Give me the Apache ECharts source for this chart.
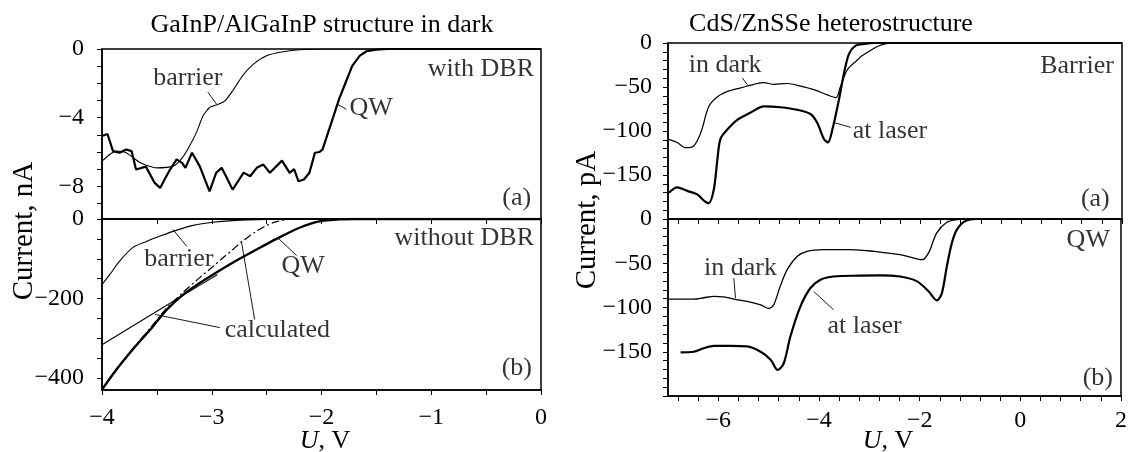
<!DOCTYPE html>
<html>
<head>
<meta charset="utf-8">
<script src="https://cdn.jsdelivr.net/npm/echarts@6/dist/echarts.min.js"></script>
<style>
html, body { margin: 0; padding: 0; background: #fff; }
#chart { width: 1130px; height: 452px; }
</style>
</head>
<body>
<div id="chart"></div>
<script>
// --- data: [U (V), current] ---
var dbrBarrier = [[-4.0,-6.53],[-3.93,-6.14],[-3.87,-5.95],[-3.78,-6.04],[-3.65,-6.63],[-3.5,-6.92],[-3.35,-6.82],
    [-3.28,-6.43],[-3.22,-5.85],[-3.14,-4.87],[-3.08,-3.9],[-3.02,-3.41],[-2.94,-3.22],[-2.88,-3.02],[-2.81,-2.44],
    [-2.72,-1.56],[-2.62,-0.88],[-2.5,-0.39],[-2.35,-0.16],[-2.2,-0.04],[-1.9,0],[0,0]];
var dbrQW = [[-4.0,-5.07],[-3.95,-4.95],[-3.9,-5.95],[-3.84,-6.04],[-3.78,-5.85],[-3.73,-5.95],[-3.69,-7.02],
    [-3.6,-6.85],[-3.52,-7.8],[-3.47,-8.09],[-3.43,-7.6],[-3.38,-7.02],[-3.32,-6.43],[-3.27,-6.63],[-3.24,-6.92],
    [-3.18,-6.04],[-3.11,-6.82],[-3.02,-8.29],[-2.96,-7.21],[-2.91,-6.92],[-2.87,-7.41],[-2.81,-8.19],[-2.75,-7.6],
    [-2.71,-7.2],[-2.65,-7.41],[-2.59,-6.92],[-2.53,-6.73],[-2.47,-7.21],[-2.41,-6.82],[-2.36,-6.5],[-2.29,-7.21],
    [-2.25,-7.0],[-2.21,-7.7],[-2.16,-7.6],[-2.11,-7.21],[-2.06,-6.04],[-2.02,-6.0],[-1.99,-5.85],[-1.94,-4.87],
    [-1.88,-3.7],[-1.84,-2.92],[-1.78,-1.95],[-1.72,-0.98],[-1.65,-0.39],[-1.59,-0.13],[-1.5,-0.04],[-1.4,0],[0,0]];
var noDbrBarrier = [[-4.0,-165],[-3.93,-140],[-3.84,-106],[-3.72,-72],[-3.59,-56],[-3.47,-43],[-3.32,-28],
    [-3.17,-16],[-2.99,-8],[-2.81,-4],[-2.5,-1],[-2.2,0],[0,0]];
var noDbrQW = [[-4.0,-429],[-3.87,-379],[-3.72,-328],[-3.56,-278],[-3.41,-228],[-3.26,-190],[-3.11,-161],
    [-2.99,-140],[-2.81,-110],[-2.62,-81],[-2.41,-50],[-2.2,-22],[-2.02,-6],[-1.84,-1],[-1.7,0],[0,0]];
var calcLinear = [[-4.0,-316],[-3.5,-232],[-3.1,-165],[-2.95,-140]];
var calcDashDot = [[-4.0,-430],[-3.87,-379],[-3.72,-326],[-3.56,-274],[-3.41,-224],[-3.26,-184],[-3.12,-150],
    [-3.0,-122],[-2.9,-98],[-2.8,-75],[-2.73,-58],[-2.6,-32],[-2.5,-16],[-2.4,-6],[-2.3,-1],[-2.2,0],[0,0]];

var barrierDark = [[-6.98,-109.5],[-6.82,-113],[-6.65,-119],[-6.49,-117],[-6.35,-102],[-6.19,-72],[-6.02,-61],
    [-5.82,-55],[-5.56,-51],[-5.3,-47],[-5.1,-45],[-4.9,-47],[-4.63,-46],[-4.37,-49],[-4.11,-53],[-3.84,-59],
    [-3.67,-62],[-3.58,-49],[-3.44,-30],[-3.24,-19],[-3.18,-15.5],[-3.0,-9],[-2.85,-4],[-2.65,-0.5],[-2.4,0],[2,0]];
var barrierLaser = [[-6.98,-170],[-6.82,-164],[-6.62,-168],[-6.42,-172],[-6.29,-179],[-6.19,-182],[-6.09,-166],
    [-6.02,-132],[-5.96,-109],[-5.82,-98],[-5.62,-87],[-5.36,-79],[-5.1,-72],[-4.77,-73],[-4.43,-76],[-4.17,-81],
    [-4.04,-91],[-3.91,-109],[-3.83,-113],[-3.74,-98],[-3.61,-64],[-3.51,-34],[-3.41,-12],[-3.28,-3],[-3.11,-1],
    [-2.9,0],[2,0]];
var qwDark = [[-6.98,-90.5],[-6.75,-90.5],[-6.49,-90.5],[-6.29,-89],[-6.09,-87.5],[-5.89,-88],[-5.69,-90.5],
    [-5.43,-93],[-5.16,-97],[-5.0,-101],[-4.9,-97],[-4.77,-76],[-4.63,-57],[-4.43,-42],[-4.24,-36.5],[-3.91,-34.6],
    [-3.44,-34.6],[-2.91,-36.5],[-2.72,-38],[-2.32,-41],[-1.95,-46],[-1.82,-38],[-1.66,-15.6],[-1.46,-3.6],
    [-1.26,-0.6],[-1.1,0],[2,0]];
var qwLaser = [[-6.75,-150.6],[-6.49,-150],[-6.29,-146],[-6.09,-143.4],[-5.76,-143.4],[-5.43,-144],[-5.16,-150],
    [-4.96,-159],[-4.82,-170.6],[-4.7,-163],[-4.57,-133],[-4.37,-99],[-4.17,-78],[-3.97,-68.6],[-3.71,-65],
    [-3.18,-64],[-2.78,-63.7],[-2.39,-65],[-2.05,-70.5],[-1.82,-82],[-1.66,-92],[-1.56,-84],[-1.46,-53.5],
    [-1.36,-27],[-1.26,-12],[-1.1,-2.5],[-0.86,0],[2,0]];

// tick and label values
var leftXLabels = [-4, -3, -2, -1, 0];
var leftXTicks = [-4, -3.5, -3, -2.5, -2, -1.5, -1, -0.5, 0];
var dbrYLabels = [0, -4, -8];
var dbrYTicks = [0, -1, -2, -3, -4, -5, -6, -7, -8, -9];
var noDbrYLabels = [0, -200, -400];
var noDbrYTicks = [0, -50, -100, -150, -200, -250, -300, -350, -400];
var rightXLabels = [-6, -4, -2, 0, 2];
var rightXTicks = [-6.8, -6.4, -6, -5.6, -5.2, -4.8, -4.4, -4, -3.6, -3.2, -2.8, -2.4, -2, -1.6, -1.2, -0.8,
    -0.4, 0, 0.4, 0.8, 1.2, 1.6, 2];
var rightYLabels = [0, -50, -100, -150];
var rightYTicks = [0, -10, -20, -30, -40, -50, -60, -70, -80, -90, -100, -110, -120, -130, -140, -150, -160,
    -170, -180, -190, -200];

// annotations: [grid, text, x, y, align]
var notes = [
    [0, 'barrier', -3.218, -1.7, 'center'], [0, 'QW', -1.745, -3.45, 'left'],
    [0, 'with DBR', -0.064, -1.17, 'right'], [0, '(a)', -0.09, -8.71, 'right'],
    [1, 'barrier', -3.3, -102, 'center'], [1, 'QW', -2.364, -119.5, 'left'],
    [1, 'calculated', -2.882, -280.5, 'left'], [1, 'without DBR', -0.064, -49, 'right'],
    [1, '(b)', -0.082, -376, 'right'],
    [2, 'in dark', -5.867, -24.8, 'center'], [2, 'at laser', -3.337, -100.5, 'left'],
    [2, 'Barrier', 1.838, -26, 'right'], [2, '(a)', 1.757, -178, 'right'],
    [3, 'in dark', -5.56, -55, 'center'], [3, 'at laser', -3.833, -120.7, 'left'],
    [3, 'QW', 1.78, -24.4, 'right'], [3, '(b)', 1.84, -179.7, 'right']
];
// leader lines: [grid, x1, y1, x2, y2]
var leaders = [
    [0, -3.036, -2.51, -2.955, -3.22], [0, -1.855, -3.22, -1.773, -3.51],
    [1, -3.355, -26, -3.227, -69], [1, -2.391, -49, -2.227, -92],
    [1, -2.927, -273, -3.518, -240], [1, -2.609, -253, -2.73, -56],
    [2, -5.526, -39.8, -5.427, -47.4], [2, -3.714, -90.3, -3.377, -95.9],
    [3, -5.692, -66.7, -5.659, -89.3], [3, -4.105, -81.9, -3.708, -102.6]
];

var FONT = '"Liberation Serif", "DejaVu Serif", serif';
var minus = function (v) { return String(v).replace('-', '\u2212'); };

var grids = [
    {left: 102, top: 49, width: 439, height: 170},
    {left: 102, top: 219, width: 439, height: 171},
    {left: 668, top: 43, width: 454, height: 176},
    {left: 668, top: 219, width: 454, height: 177}
];

function xAxisFor(gi, min, max, ticks, labels, showLabels, margin) {
    return {
        type: 'value', gridIndex: gi, min: min, max: max,
        axisLine: {show: true, onZero: false, lineStyle: {color: '#000', width: 1.5}},
        axisTick: {show: true, customValues: ticks, length: 5, lineStyle: {color: '#000', width: 1}},
        axisLabel: {show: showLabels, customValues: labels, formatter: minus, margin: margin,
            fontFamily: FONT, fontSize: 24, color: '#000'},
        splitLine: {show: false}
    };
}
function yAxisFor(gi, min, ticks, labels, margin) {
    return {
        type: 'value', gridIndex: gi, min: min, max: 0,
        axisLine: {show: true, onZero: false, lineStyle: {color: '#000', width: 1.5}},
        axisTick: {show: true, customValues: ticks, length: 5, lineStyle: {color: '#000', width: 1}},
        axisLabel: {customValues: labels, formatter: minus, margin: margin,
            fontFamily: FONT, fontSize: 24, color: '#000'},
        splitLine: {show: false}
    };
}
function curve(gi, data, width, type, smooth) {
    return {
        type: 'line', xAxisIndex: gi, yAxisIndex: gi, data: data,
        symbol: 'none', smooth: smooth, animation: false, silent: true,
        lineStyle: {color: '#000', width: width, type: type || 'solid'}
    };
}

var series = [
    curve(0, dbrBarrier, 1.1, 'solid', 0.2),
    curve(0, dbrQW, 2.2, 'solid', 0),
    curve(1, noDbrBarrier, 1.1, 'solid', 0.3),
    curve(1, calcLinear, 1.1, 'solid', 0),
    curve(1, calcDashDot, 1.2, [8, 3, 2, 3], 0.3),
    curve(1, noDbrQW, 2.4, 'solid', 0.3),
    curve(2, barrierDark, 1.2, 'solid', 0.3),
    curve(2, barrierLaser, 2.2, 'solid', 0.3),
    curve(3, qwDark, 1.3, 'solid', 0.3),
    curve(3, qwLaser, 2.2, 'solid', 0.3)
];

[0, 1, 2, 3].forEach(function (gi) {
    series.push({
        type: 'scatter', xAxisIndex: gi, yAxisIndex: gi, symbolSize: 0, silent: true, animation: false,
        data: notes.filter(function (n) { return n[0] === gi; }).map(function (n) {
            return {value: [n[2], n[3]], label: {show: true, position: 'inside', formatter: n[1], align: n[4],
                verticalAlign: 'middle', fontFamily: FONT, fontSize: 26, color: '#000'}};
        }),
        markLine: {
            silent: true, animation: false, symbol: ['none', 'none'], label: {show: false},
            lineStyle: {color: '#000', width: 0.9, type: 'solid'},
            data: leaders.filter(function (l) { return l[0] === gi; }).map(function (l) {
                return [{coord: [l[1], l[2]]}, {coord: [l[3], l[4]]}];
            })
        }
    });
});

var option = {
    backgroundColor: '#fff',
    animation: false,
    grid: grids.map(function (g) {
        return Object.assign({show: true, borderColor: '#000', borderWidth: 1.5, backgroundColor: 'transparent'}, g);
    }),
    xAxis: [
        xAxisFor(0, -4, 0, leftXTicks, leftXLabels, false, 16),
        xAxisFor(1, -4, 0, leftXTicks, leftXLabels, true, 16),
        xAxisFor(2, -7, 2, rightXTicks, rightXLabels, false, 13),
        xAxisFor(3, -7, 2, rightXTicks, rightXLabels, true, 13)
    ],
    yAxis: [
        yAxisFor(0, -9.9, dbrYTicks, dbrYLabels, 18),
        yAxisFor(1, -430, noDbrYTicks, noDbrYLabels, 18),
        yAxisFor(2, -200, rightYTicks, rightYLabels, 16),
        yAxisFor(3, -200, rightYTicks, rightYLabels, 16)
    ],
    series: series,
    graphic: [
        {type: 'text', x: 322, y: 25, style: {text: 'GaInP/AlGaInP structure in dark', font: '26px ' + FONT,
            fill: '#000', textAlign: 'center', textVerticalAlign: 'middle'}},
        {type: 'text', x: 831, y: 24, style: {text: 'CdS/ZnSSe heterostructure', font: '26px ' + FONT,
            fill: '#000', textAlign: 'center', textVerticalAlign: 'middle'}},
        {type: 'text', x: 24, y: 231, rotation: Math.PI / 2, style: {text: 'Current, nA', font: '29px ' + FONT,
            fill: '#000', textAlign: 'center', textVerticalAlign: 'middle'}},
        {type: 'text', x: 587, y: 220, rotation: Math.PI / 2, style: {text: 'Current, pA', font: '29px ' + FONT,
            fill: '#000', textAlign: 'center', textVerticalAlign: 'middle'}},
        {type: 'text', x: 325, y: 441, style: {text: '{i|U}, V', font: '26px ' + FONT, fill: '#000',
            textAlign: 'center', textVerticalAlign: 'middle',
            rich: {i: {fontStyle: 'italic', fontFamily: FONT, fontSize: 26}}}},
        {type: 'text', x: 888, y: 441, style: {text: '{i|U}, V', font: '26px ' + FONT, fill: '#000',
            textAlign: 'center', textVerticalAlign: 'middle',
            rich: {i: {fontStyle: 'italic', fontFamily: FONT, fontSize: 26}}}}
    ]
};

var chart = echarts.init(document.getElementById('chart'));
chart.setOption(option);
</script>
</body>
</html>
